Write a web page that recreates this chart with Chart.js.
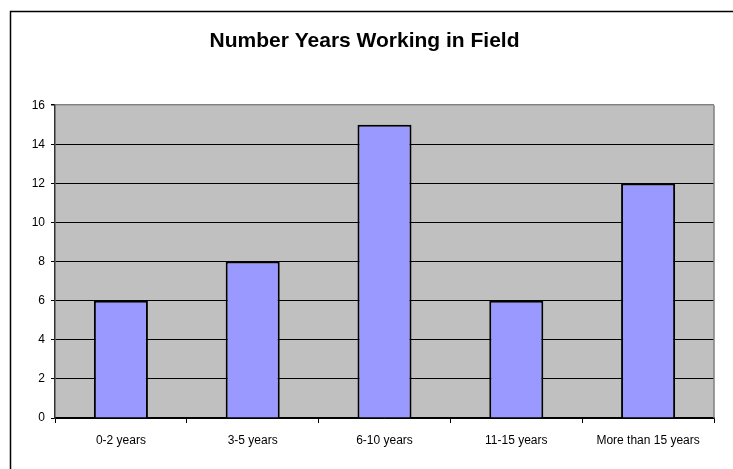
<!DOCTYPE html>
<html>
<head>
<meta charset="utf-8">
<script src="https://cdn.jsdelivr.net/npm/chart.js@4"></script>
<style>
  html, body { margin: 0; padding: 0; background: #fff; }
  #wrap { width: 733px; height: 469px; position: relative; }
</style>
</head>
<body>
<div id="wrap"><canvas id="chart"></canvas></div>
<script>
const categories = ['0-2 years', '3-5 years', '6-10 years', '11-15 years', 'More than 15 years'];
const counts = [6, 8, 15, 6, 12];
const Y_MAX = 16;
const Y_STEP = 2;

// grey plot area, grey top/right edge, and the outer frame line
const plotFrame = {
  id: 'plotFrame',
  beforeDraw(chart) {
    const { ctx, chartArea: a } = chart;
    ctx.save();
    ctx.fillStyle = '#c0c0c0';
    ctx.fillRect(a.left, a.top, a.right - a.left, a.bottom - a.top);
    ctx.restore();
  },
  afterDraw(chart) {
    const { ctx, chartArea: a } = chart;
    ctx.save();
    ctx.strokeStyle = '#808080';
    ctx.lineWidth = 1.5;
    ctx.beginPath();
    ctx.moveTo(a.right, a.top);
    ctx.lineTo(a.right, a.bottom);
    ctx.stroke();
    ctx.strokeStyle = '#000';
    ctx.lineWidth = 1.5;
    ctx.beginPath();
    ctx.moveTo(10.5, chart.height);
    ctx.lineTo(10.5, 11.5);
    ctx.lineTo(chart.width, 11.5);
    ctx.stroke();
    ctx.restore();
  }
};

new Chart(document.getElementById('chart'), {
  type: 'bar',
  data: {
    labels: categories,
    datasets: [{
      data: counts,
      backgroundColor: '#9999ff',
      borderColor: '#000',
      borderWidth: 2,
      categoryPercentage: 1,
      barPercentage: 0.41,
    }],
  },
  options: {
    responsive: true,
    maintainAspectRatio: false,
    animation: false,
    layout: { padding: { left: 0, right: 4, top: 0, bottom: 0 } },
    plugins: {
      legend: { display: false },
      tooltip: { enabled: false },
      title: {
        display: true,
        text: 'Number Years Working in Field',
        color: '#000',
        font: { family: 'Liberation Sans, Arial, sans-serif', size: 21, weight: 'bold' },
        padding: { top: 29, bottom: 51 },
      },
    },
    scales: {
      x: {
        grid: {
          offset: true,
          drawOnChartArea: false,
          drawTicks: true,
          tickLength: 5,
          color: '#000',
        },
        border: { color: '#000', width: 1.5 },
        ticks: {
          color: '#000',
          padding: 10,
          maxRotation: 0,
          autoSkip: false,
          font: { family: 'Liberation Sans, Arial, sans-serif', size: 12 },
        },
        afterFit(scale) { scale.height = 51; },
      },
      y: {
        min: 0,
        max: Y_MAX,
        ticks: {
          stepSize: Y_STEP,
          color: '#000',
          padding: 6,
          font: { family: 'Liberation Sans, Arial, sans-serif', size: 12 },
        },
        grid: {
          color: ctx => (ctx.tick && ctx.tick.value === Y_MAX ? '#808080' : '#000'),
          tickColor: '#000',
          lineWidth: ctx => (ctx.tick && ctx.tick.value === Y_MAX ? 1.5 : 1),
          tickLength: 4,
        },
        border: { color: '#333', width: 1.5 },
        afterFit(scale) { scale.width = 55; },
      },
      // empty right-hand gutter so the title centres on the whole frame
      gutter: {
        position: 'right',
        display: true,
        ticks: { display: false },
        grid: { display: false },
        border: { display: false },
        afterFit(scale) { scale.width = 15; },
      },
    },
  },
  plugins: [plotFrame],
});
</script>
</body>
</html>
